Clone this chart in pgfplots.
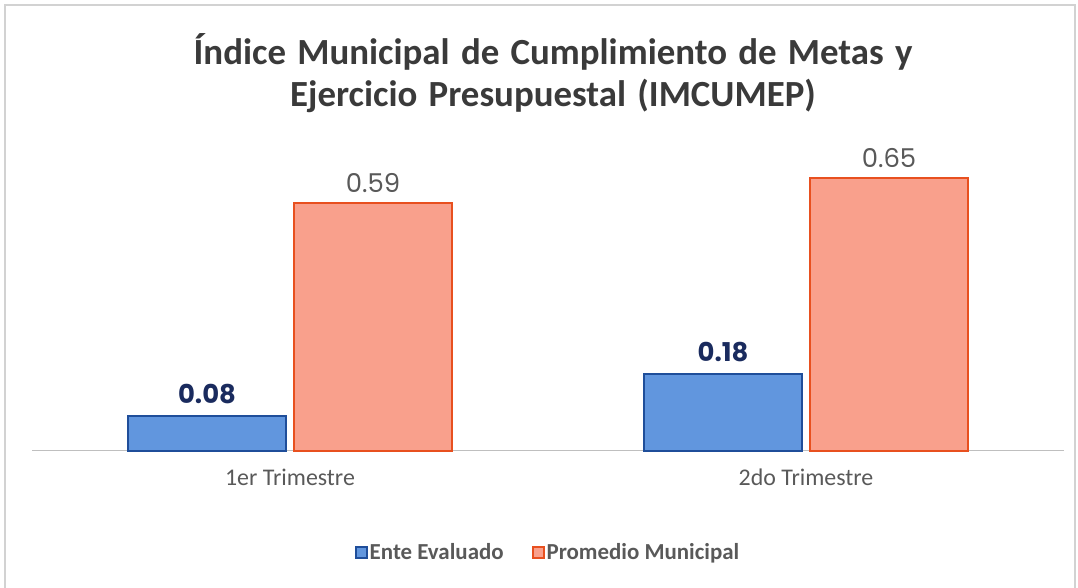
\documentclass[border=0pt]{standalone}
\usepackage{pgfplots}
\pgfplotsset{compat=1.18}
\usepackage{fontspec}
\setmainfont{Carlito}
\newfontfamily\labelfont{Poppins}
\newfontfamily\titlefont[WordSpace=1.35]{Carlito}
\definecolor{blueF}{HTML}{6196DE}
\definecolor{blueD}{HTML}{1F4E9A}
\definecolor{orangeF}{HTML}{F9A08C}
\definecolor{orangeD}{HTML}{E8501F}
\definecolor{navy}{HTML}{1A2B5E}
\definecolor{txt}{HTML}{595959}
\definecolor{ttl}{HTML}{3A3A3A}
\begin{document}
\begin{tikzpicture}[x=1bp,y=1bp]
\useasboundingbox (0,0) rectangle (1078,588);
\draw[gray!35, line width=1.2bp] (5,0) -- (5,583) -- (1075,583) -- (1075,0);
\node[align=center, font=\titlefont\fontsize{37}{42}\selectfont\bfseries, text=ttl] at (553,515) {Índice Municipal de Cumplimiento de Metas y\\Ejercicio Presupuestal (IMCUMEP)};
\begin{axis}[
  at={(32bp,137bp)}, anchor=south west,
  scale only axis, width=1032bp, height=302.4bp,
  ymin=0, ymax=0.72, xmin=-0.5, xmax=1.5,
  axis y line=none, axis x line*=bottom,
  x axis line style={gray!50, line width=1bp, -},
  xtick=data, xticklabels={1er Trimestre,2do Trimestre},
  xtick style={draw=none},
  ticklabel style={font=\fontsize{24}{28}\selectfont, text=txt},
  xticklabel style={yshift=-10bp},
  ybar=8bp, bar width=158bp,
  clip=false,
  nodes near coords, point meta=y,
  nodes near coords style={/pgf/number format/fixed, /pgf/number format/fixed zerofill, /pgf/number format/precision=2, /pgf/number format/assume math mode=true},
  legend style={at={(0.5,-0.334)}, anchor=center, draw=none, fill=none, legend columns=2, font=\fontsize{23}{26}\selectfont\bfseries, text=txt, /tikz/every even column/.append style={column sep=26bp}},
  legend image code/.code={\draw[#1, line width=2bp] (0bp,-6bp) rectangle (11bp,5bp);},
]
\addplot[fill=blueF, draw=blueD, line width=1.5bp,
  nodes near coords style={font=\labelfont\fontsize{26}{28}\selectfont\bfseries, text=navy, yshift=8bp}]
  coordinates {(0,0.083) (1,0.183)};
\addplot[fill=orangeF, draw=orangeD, line width=1.5bp,
  nodes near coords style={font=\labelfont\fontsize{26}{28}\selectfont, text=txt, yshift=6bp}]
  coordinates {(0,0.59) (1,0.65)};
\legend{Ente Evaluado, Promedio Municipal}
\end{axis}
\end{tikzpicture}
\end{document}
